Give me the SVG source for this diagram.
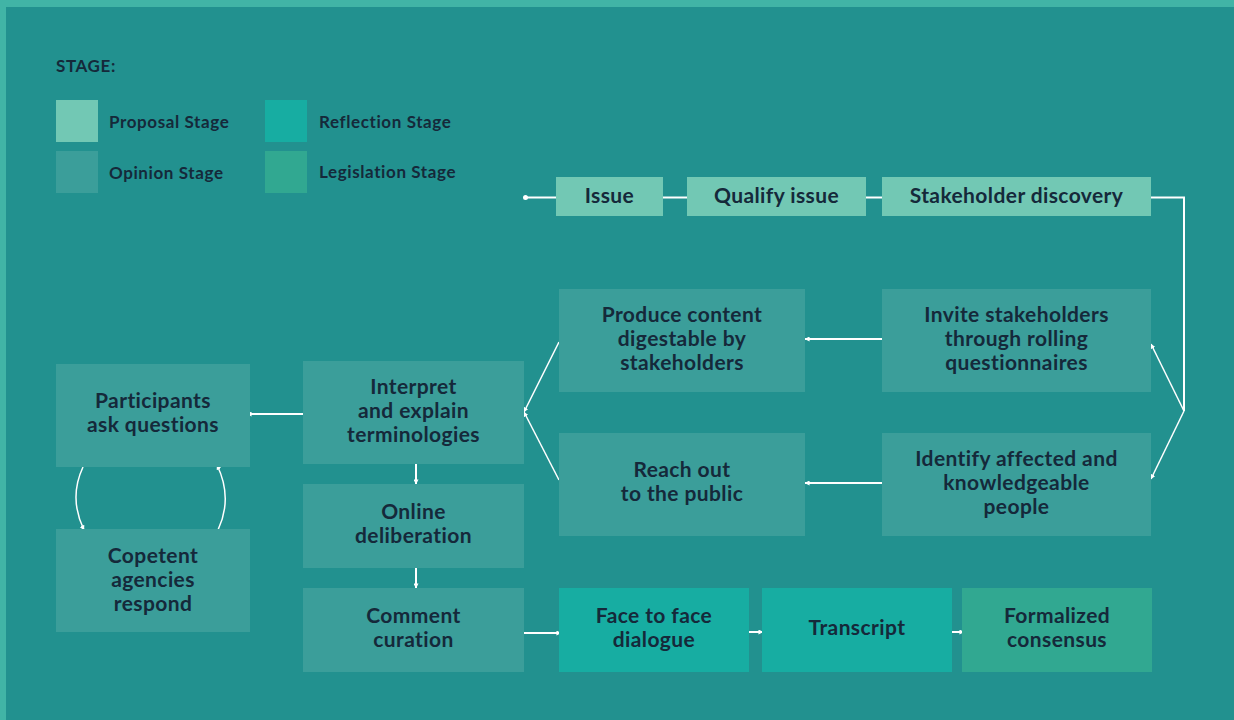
<svg xmlns="http://www.w3.org/2000/svg" width="1234" height="720" viewBox="0 0 1234 720">
  <style>
    .bg { fill: #22918f; }
    .frame { fill: #41b4a6; }
    .proposal { fill: #72c8b4; }
    .opinion { fill: #3b9e9a; }
    .reflection { fill: #17ada2; }
    .legislation { fill: #31a891; }
    text { font-family: "Lato", "Liberation Sans", sans-serif; font-weight: 700; fill: #15293a; }
    .label { font-size: 21px; letter-spacing: 0.4px; text-anchor: middle; }
    .legend { font-size: 17px; letter-spacing: 0.6px; }
    .wire { fill: none; stroke: #ffffff; stroke-width: 2; }
    .thin { fill: none; stroke: #ffffff; stroke-width: 1.5; }
  </style>
  <defs>
    <marker id="tip" viewBox="0 0 6 6" refX="5.5" refY="3" markerWidth="5" markerHeight="5" markerUnits="userSpaceOnUse" orient="auto">
      <path d="M0,0 L6,3 L0,6 z" fill="#ffffff"/>
    </marker>
  </defs>

  <!-- background with light frame on top and left -->
  <rect class="frame" x="0" y="0" width="1234" height="720"/>
  <rect class="bg" x="6" y="7" width="1228" height="713"/>

  <!-- legend -->
  <g id="legend">
    <text class="legend" x="56" y="72">STAGE:</text>
    <rect class="proposal" x="56" y="100" width="42" height="42"/>
    <text class="legend" x="109" y="128">Proposal Stage</text>
    <rect class="opinion" x="56" y="151" width="42" height="42"/>
    <text class="legend" x="109" y="179">Opinion Stage</text>
    <rect class="reflection" x="265" y="100" width="42" height="42"/>
    <text class="legend" x="319" y="128">Reflection Stage</text>
    <rect class="legislation" x="265" y="151" width="42" height="42"/>
    <text class="legend" x="319" y="178">Legislation Stage</text>
  </g>

  <!-- connectors -->
  <g id="connectors">
    <circle cx="525.5" cy="197.5" r="2.5" fill="#ffffff"/>
    <path class="wire" d="M525.5 197.5 H1184 V411"/>
    <path class="thin" d="M1184 411 L1151 344" marker-end="url(#tip)"/>
    <path class="thin" d="M1184 411 L1151 479" marker-end="url(#tip)"/>
    <path class="wire" d="M882 339 H805" marker-end="url(#tip)"/>
    <path class="wire" d="M882 483 H805" marker-end="url(#tip)"/>
    <path class="thin" d="M559 342 L524 412" marker-end="url(#tip)"/>
    <path class="thin" d="M559 480 L524 412" marker-end="url(#tip)"/>
    <path class="wire" d="M305 414 H247" marker-end="url(#tip)"/>
    <path class="wire" d="M416 464 V484" marker-end="url(#tip)"/>
    <path class="wire" d="M416 568 V588" marker-end="url(#tip)"/>
    <path class="wire" d="M524 633 H561" marker-end="url(#tip)"/>
    <path class="wire" d="M749 632 H763" marker-end="url(#tip)"/>
    <path class="wire" d="M952 632 H964" marker-end="url(#tip)"/>
    <path class="thin" d="M83 467 Q68.5 498 84 530" marker-end="url(#tip)"/>
    <path class="thin" d="M218 530 Q233 498 217 465" marker-end="url(#tip)"/>
  </g>

  <!-- proposal stage -->
  <g id="issue">
    <rect class="proposal" x="556" y="177" width="107" height="39"/>
    <text class="label" x="609.5" y="203">Issue</text>
  </g>
  <g id="qualify-issue">
    <rect class="proposal" x="687" y="177" width="179" height="39"/>
    <text class="label" x="776.5" y="203">Qualify issue</text>
  </g>
  <g id="stakeholder-discovery">
    <rect class="proposal" x="882" y="177" width="269" height="39"/>
    <text class="label" x="1016.5" y="203">Stakeholder discovery</text>
  </g>

  <!-- opinion stage -->
  <g id="invite-stakeholders">
    <rect class="opinion" x="882" y="289" width="269" height="103"/>
    <text class="label" x="1016.5" y="322">Invite stakeholders</text>
    <text class="label" x="1016.5" y="346">through rolling</text>
    <text class="label" x="1016.5" y="370">questionnaires</text>
  </g>
  <g id="identify-people">
    <rect class="opinion" x="882" y="433" width="269" height="103"/>
    <text class="label" x="1016.5" y="466">Identify affected and</text>
    <text class="label" x="1016.5" y="490">knowledgeable</text>
    <text class="label" x="1016.5" y="514">people</text>
  </g>
  <g id="produce-content">
    <rect class="opinion" x="559" y="289" width="246" height="103"/>
    <text class="label" x="682" y="322">Produce content</text>
    <text class="label" x="682" y="346">digestable by</text>
    <text class="label" x="682" y="370">stakeholders</text>
  </g>
  <g id="reach-out">
    <rect class="opinion" x="559" y="433" width="246" height="103"/>
    <text class="label" x="682" y="477">Reach out</text>
    <text class="label" x="682" y="501">to the public</text>
  </g>
  <g id="interpret-terminologies">
    <rect class="opinion" x="303" y="361" width="221" height="103"/>
    <text class="label" x="413.5" y="394">Interpret</text>
    <text class="label" x="413.5" y="418">and explain</text>
    <text class="label" x="413.5" y="442">terminologies</text>
  </g>
  <g id="participants-ask">
    <rect class="opinion" x="56" y="364" width="194" height="103"/>
    <text class="label" x="153" y="408">Participants</text>
    <text class="label" x="153" y="432">ask questions</text>
  </g>
  <g id="agencies-respond">
    <rect class="opinion" x="56" y="529" width="194" height="103"/>
    <text class="label" x="153" y="563">Copetent</text>
    <text class="label" x="153" y="587">agencies</text>
    <text class="label" x="153" y="611">respond</text>
  </g>
  <g id="online-deliberation">
    <rect class="opinion" x="303" y="484" width="221" height="84"/>
    <text class="label" x="413.5" y="519">Online</text>
    <text class="label" x="413.5" y="543">deliberation</text>
  </g>
  <g id="comment-curation">
    <rect class="opinion" x="303" y="588" width="221" height="84"/>
    <text class="label" x="413.5" y="623">Comment</text>
    <text class="label" x="413.5" y="647">curation</text>
  </g>

  <!-- reflection stage -->
  <g id="face-to-face">
    <rect class="reflection" x="559" y="588" width="190" height="84"/>
    <text class="label" x="654" y="623">Face to face</text>
    <text class="label" x="654" y="647">dialogue</text>
  </g>
  <g id="transcript">
    <rect class="reflection" x="762" y="588" width="190" height="84"/>
    <text class="label" x="857" y="635">Transcript</text>
  </g>

  <!-- legislation stage -->
  <g id="formalized-consensus">
    <rect class="legislation" x="962" y="588" width="190" height="84"/>
    <text class="label" x="1057" y="623">Formalized</text>
    <text class="label" x="1057" y="647">consensus</text>
  </g>
</svg>
